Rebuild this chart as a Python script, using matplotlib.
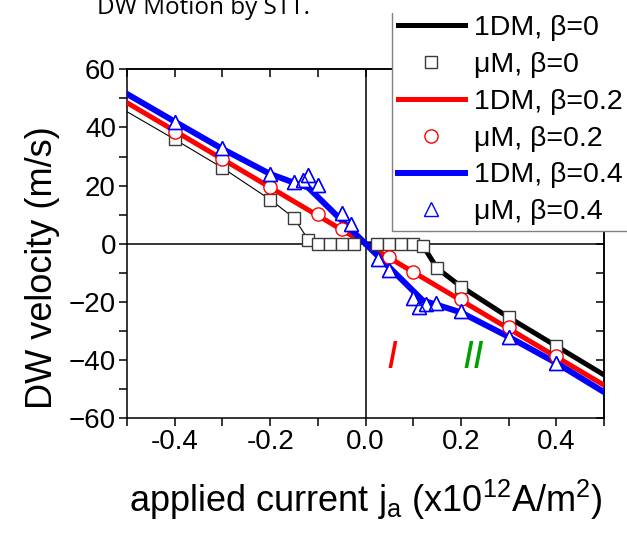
import matplotlib
matplotlib.use('Agg')
import matplotlib.pyplot as plt
from matplotlib.ticker import MultipleLocator
from matplotlib.patches import Rectangle

plt.rcParams['font.family'] = ['Liberation Sans', 'DejaVu Sans']
plt.rcParams['mathtext.fontset'] = 'custom'
plt.rcParams['mathtext.rm'] = 'Liberation Sans'
plt.rcParams['mathtext.it'] = 'Liberation Sans:italic'

# 1DM, beta=0 (thin on the negative side, thick on the positive side)
x_1dm0_neg = [-0.5, -0.4, -0.3, -0.2, -0.15, -0.12, 0.0]
v_1dm0_neg = [45.4, 35.9, 26.1, 15.2, 8.9, 1.4, 0.0]
x_1dm0_pos = [0.0, 0.12, 0.15, 0.2, 0.3, 0.4, 0.5]
v_1dm0_pos = [0.0, -0.6, -8.4, -14.7, -25.3, -35.2, -45.1]

# uM, beta=0
x_um0 = [-0.4, -0.3, -0.2, -0.15, -0.12, -0.1, -0.075, -0.05, -0.025,
         0.025, 0.05, 0.075, 0.1, 0.12, 0.15, 0.2, 0.3, 0.4]
v_um0 = [35.9, 26.1, 15.2, 8.9, 1.4, 0.0, 0.0, 0.0, 0.0,
         0.0, 0.0, 0.0, 0.0, -0.6, -8.4, -14.7, -25.3, -35.2]

# 1DM, beta=0.2
x_1dm2 = [-0.5, 0.0, 0.5]
v_1dm2 = [48.5, 0.0, -48.6]

# uM, beta=0.2
x_um2 = [-0.4, -0.3, -0.2, -0.1, -0.05, 0.05, 0.1, 0.2, 0.3, 0.4]
v_um2 = [38.5, 29.0, 19.5, 10.1, 5.0, -4.6, -9.6, -19.1, -28.7, -38.6]

# 1DM, beta=0.4
x_1dm4 = [-0.5, -0.4, -0.3, -0.2, -0.15, -0.12, 0.0, 0.12, 0.15, 0.2, 0.3, 0.4, 0.5]
v_1dm4 = [51.5, 42.0, 32.6, 24.0, 21.0, 19.3, 0.0, -19.5, -21.0, -23.6, -32.0, -41.0, -51.0]

# uM, beta=0.4
x_um4 = [-0.4, -0.3, -0.2, -0.15, -0.132, -0.12, -0.1, -0.05, -0.03,
         0.027, 0.05, 0.1, 0.112, 0.127, 0.148, 0.2, 0.3, 0.4]
v_um4 = [41.8, 32.8, 23.9, 21.4, 21.9, 23.7, 20.2, 10.5, 6.8,
         -5.3, -9.0, -18.7, -21.8, -20.7, -20.2, -23.0, -31.9, -41.1]

labels = ['1DM, β=0', 'μM, β=0', '1DM, β=0.2', 'μM, β=0.2', '1DM, β=0.4', 'μM, β=0.4']

fig = plt.figure(figsize=(6.27, 5.34), dpi=100)
ax = fig.add_axes([0.2026, 0.2167, 0.7608, 0.6536])

ax.axhline(0, color='k', lw=1.1, zorder=1)
ax.axvline(0, color='k', lw=1.1, zorder=1)

ax.plot(x_1dm0_neg, v_1dm0_neg, color='k', lw=0.8, zorder=2)
l0, = ax.plot(x_1dm0_pos, v_1dm0_pos, color='k', lw=3.6, zorder=2)
l2, = ax.plot(x_1dm2, v_1dm2, color='#ff0000', lw=3.6, zorder=3)
l4, = ax.plot(x_1dm4, v_1dm4, color='#0000ff', lw=4.3, zorder=4)

m0, = ax.plot(x_um0, v_um0, ls='none', marker='s', ms=8.5, mfc='white',
              mec='#3a3a3a', mew=1.0, zorder=5)
m2, = ax.plot(x_um2, v_um2, ls='none', marker='o', ms=9.5, mfc='white',
              mec='#ff0000', mew=1.0, zorder=5)
m4, = ax.plot(x_um4, v_um4, ls='none', marker='^', ms=10.5, mfc='white',
              mec='#0000ff', mew=1.0, zorder=5)
ax.plot(x_um4, v_um4, ls='none', marker='^', ms=10.5, mfc='none',
        mec='#0000ff', mew=1.0, zorder=6)

ax.text(0.056, -39.3, 'I', color='#ff0000', fontsize=28, style='italic',
        ha='center', va='center')
ax.text(0.225, -39.3, 'II', color='#00a000', fontsize=28, style='italic',
        ha='center', va='center')

ax.set_xlim(-0.5, 0.5)
ax.set_ylim(-60, 60)
ax.xaxis.set_minor_locator(MultipleLocator(0.1))
ax.yaxis.set_major_locator(MultipleLocator(20))
ax.yaxis.set_minor_locator(MultipleLocator(10))
ax.set_xticks([-0.4, -0.2, 0.0, 0.2, 0.4])
ax.set_xticklabels(['-0.4', '-0.2', '0.0', '0.2', '0.4'])
ax.tick_params(which='both', direction='out', length=6, width=1.1,
               labelsize=20, pad=2)
for s in ax.spines.values():
    s.set_linewidth(1.1)

sx = ax.secondary_xaxis('top')
sx.xaxis.set_major_locator(MultipleLocator(0.1))
sx.tick_params(which='both', direction='in', length=6, width=1.1, labeltop=False)
sy = ax.secondary_yaxis('right')
sy.yaxis.set_major_locator(MultipleLocator(10))
sy.tick_params(which='both', direction='in', length=6, width=1.1, labelright=False)
for s in list(sx.spines.values()) + list(sy.spines.values()):
    s.set_linewidth(1.1)

fig.text(43 / 627, 1 - 267.5 / 534, 'DW velocity (m/s)', rotation=90,
         ha='center', va='center', fontsize=26)
fig.text(366 / 627, 1 - 512 / 534,
         r'applied current j$_\mathregular{a}$ (x10$^\mathregular{12}$A/m$^\mathregular{2}$)',
         ha='center', va='baseline', fontsize=26)
title = fig.text(97 / 627, 1 - 14 / 534, 'DW Motion by STT.', fontsize=24,
                 family=['Liberation Sans Narrow', 'Open Sans', 'DejaVu Sans'],
                 va='baseline', ha='left')

# title is only partly visible at the top edge, like in the original
fig.canvas.draw()
w = title.get_window_extent().width
title.set_fontsize(24 * 213 / w)

leg = fig.legend([l0, m0, l2, m2, l4, m4], labels, loc='lower left',
                 bbox_to_anchor=(392 / 627, 1 - 231 / 534), borderaxespad=0,
                 fontsize=20.5, fancybox=False, edgecolor='#808080', framealpha=1,
                 handlelength=2.35, handletextpad=0.32, labelspacing=0.38,
                 borderpad=0.2)
leg.get_frame().set_linewidth(1.0)

fig.patches.append(Rectangle((0.624, 1 - 13 / 534), 0.4, 13 / 534,
                             transform=fig.transFigure, facecolor='white',
                             edgecolor='none', zorder=10))

fig.savefig('out.png', dpi=100)
